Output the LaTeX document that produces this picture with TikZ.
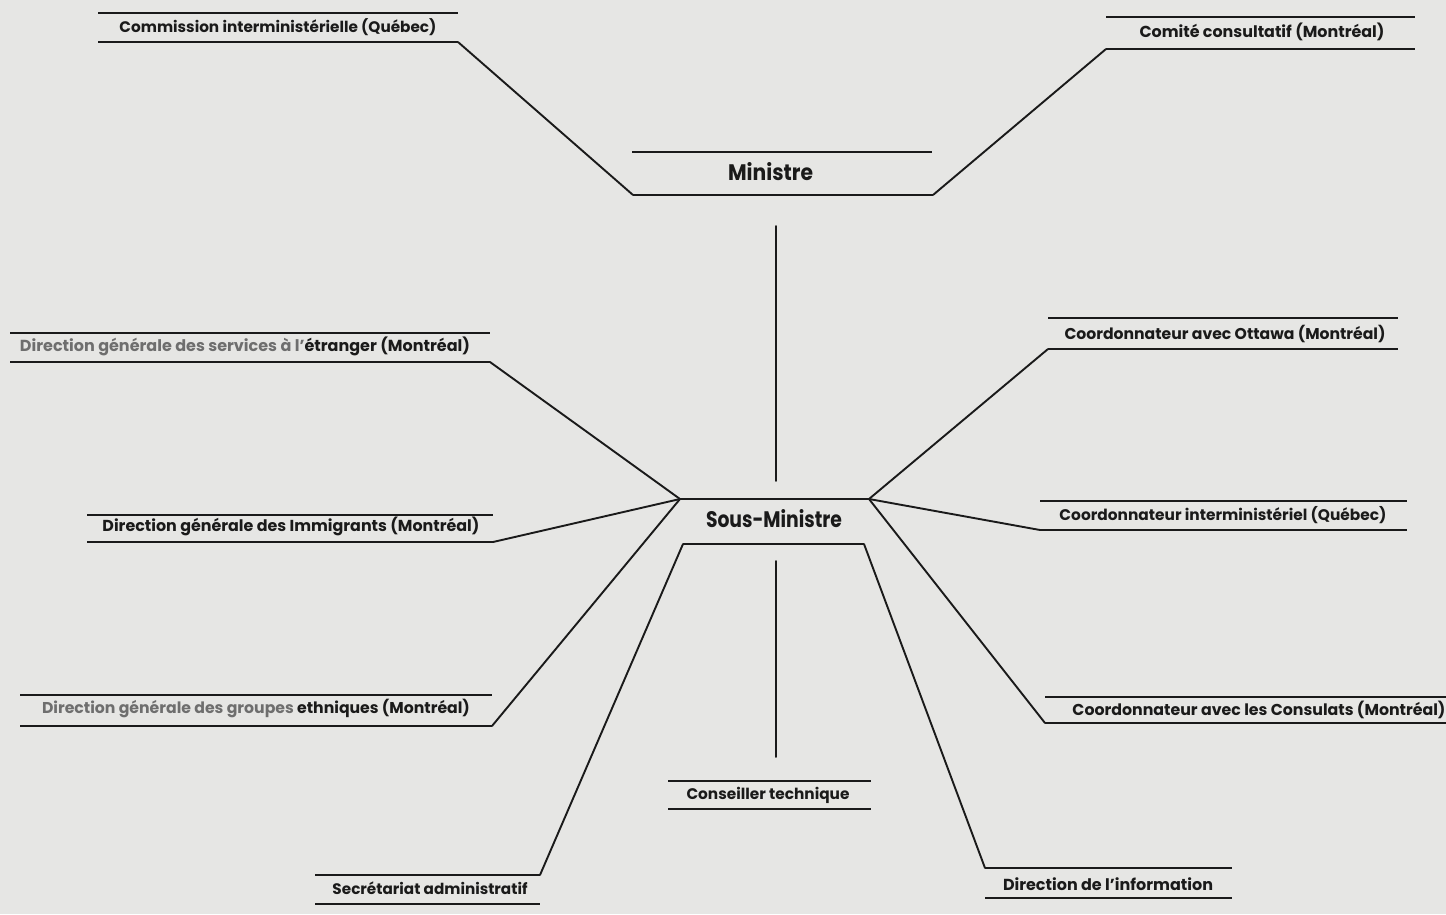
\documentclass[tikz,border=0pt]{standalone}
\usepackage{fontspec}
\setmainfont{Poppins}
\usepackage{graphicx}
\definecolor{paper}{HTML}{E6E6E4}
\definecolor{ink}{HTML}{1A1A1A}
\definecolor{faint}{HTML}{6E6E6E}
\newcommand\orgbox[9]{%
  \coordinate (#1-tl) at (#2,#4); \coordinate (#1-tr) at (#3,#4);
  \coordinate (#1-bl) at (#2,#5); \coordinate (#1-br) at (#3,#5);
  \draw[rule] (#1-tl) -- (#1-tr);
  \draw[rule] (#1-bl) -- (#1-br);
  \node[lbl] (#1) at (#6,#7) {\resizebox{#8pt}{!}{#9}};
}
\begin{document}
\begin{tikzpicture}[x=1pt,y=-1pt,
  rule/.style={ink, line width=1.7pt},
  link/.style={ink, line width=1.9pt, line cap=round},
  lbl/.style={inner sep=0pt, text=ink, font=\bfseries}]
\fill[paper] (0,0) rectangle (1446,914);
\useasboundingbox (0,0) rectangle (1446,914);

\orgbox{com}{98}{458}{13}{42}{278}{27}{317}{Commission interministérielle (Québec)}
\orgbox{comi}{1106}{1415}{17}{49}{1262}{32}{245}{Comité consultatif (Montréal)}
\orgbox{serv}{10}{490}{333}{362}{245}{346}{450}{{\color{faint}Direction générale des services à l'}étranger (Montréal)}
\orgbox{ott}{1048}{1398}{318}{349}{1225}{334}{321}{Coordonnateur avec Ottawa (Montréal)}
\orgbox{imm}{87}{493}{515}{542}{291}{526}{377}{Direction générale des Immigrants (Montréal)}
\orgbox{qc}{1040}{1407}{501}{530}{1223}{515}{327}{Coordonnateur interministériel (Québec)}
\orgbox{eth}{20}{492}{695}{726}{256}{708}{428}{{\color{faint}Direction générale des groupes }ethniques (Montréal)}
\orgbox{cons}{1045}{1446}{697}{723}{1259}{710}{373}{Coordonnateur avec les Consulats (Montréal)}
\orgbox{tech}{668}{871}{781}{809}{768}{795}{163}{Conseiller technique}
\orgbox{sec}{315}{540}{875}{904}{430}{888}{195}{Secrétariat administratif}
\orgbox{info}{985}{1232}{868}{898}{1108}{884}{210}{Direction de l'information}

% Ministre
\coordinate (min-tl) at (632,152); \coordinate (min-tr) at (932,152);
\coordinate (min-bl) at (633,195); \coordinate (min-br) at (933,195);
\draw[rule] (min-tl) -- (min-tr);
\draw[rule] (min-bl) -- (min-br);
\node[lbl] (min) at (770.5,172) {\resizebox{85pt}{18pt}{Ministre}};

% Sous-Ministre
\coordinate (sous-tl) at (680,499); \coordinate (sous-tr) at (869,499);
\coordinate (sous-bl) at (683,544); \coordinate (sous-br) at (864,544);
\draw[rule] (sous-tl) -- (sous-tr);
\draw[rule] (sous-bl) -- (sous-br);
\node[lbl] (sous) at (774,519) {\resizebox{136pt}{18pt}{Sous-Ministre}};

% vertical links
\coordinate (v1a) at (776,226); \coordinate (v1b) at (776,481);
\coordinate (v2a) at (776,561); \coordinate (v2b) at (776,757);
\draw[link] (v1a) -- (v1b);
\draw[link] (v2a) -- (v2b);

% links
\draw[link] (com-br) -- (min-bl);
\draw[link] (min-br) -- (comi-bl);
\draw[link] (serv-br) -- (sous-tl);
\draw[link] (imm-br) -- (sous-tl);
\draw[link] (eth-br) -- (sous-tl);
\draw[link] (sec-tr) -- (sous-bl);
\draw[link] (ott-bl) -- (sous-tr);
\draw[link] (qc-bl) -- (sous-tr);
\draw[link] (cons-bl) -- (sous-tr);
\draw[link] (info-tl) -- (sous-br);
\end{tikzpicture}
\end{document}
